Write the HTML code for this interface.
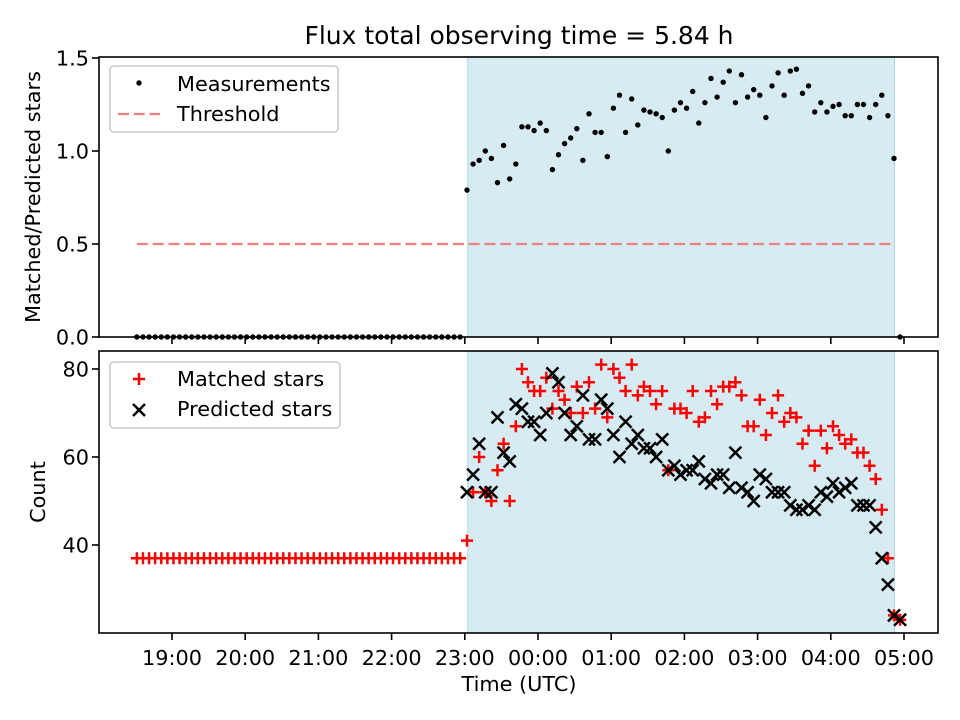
<!DOCTYPE html>
<html><head><meta charset="utf-8"><style>
body{margin:0;background:#fff;}
svg{display:block;font-family:"DejaVu Sans","Liberation Sans",sans-serif;}
</style></head><body>
<svg id="chart" width="960" height="720" viewBox="0 0 960 720">
<rect width="960" height="720" fill="#fff"/>
<g id="g"></g>
</svg>
<script>
// data
const preTimes = { start: 18.52, count: 54, stepMin: 5 };
const obsStart = 23.03;
const ratioValues = [0.79,0.93,0.95,1.0,0.96,0.83,1.03,0.85,0.93,1.13,1.13,1.11,1.15,1.11,0.9,0.98,1.04,1.07,1.12,0.95,1.2,1.1,1.1,0.97,1.23,1.3,1.1,1.28,1.14,1.22,1.21,1.2,1.18,1.0,1.22,1.26,1.23,1.32,1.15,1.26,1.39,1.29,1.37,1.43,1.26,1.41,1.29,1.33,1.3,1.18,1.35,1.42,1.3,1.43,1.44,1.31,1.35,1.21,1.26,1.21,1.24,1.25,1.19,1.19,1.25,1.25,1.18,1.25,1.3,1.19,0.96,0];
const matchedValues = [41,52,60,52,50,57,63,50,67,80,77,75,75,78,71,75,73,70,76,70,77,71,81,69,80,78,75,81,74,76,75,72,75,57,71,71,70,75,68,69,75,72,76,76,77,74,67,67,73,65,70,74,68,70,69,63,66,58,66,62,67,65,63,64,61,61,58,55,48,37,24,23];
const predictedValues = [52,56,63,52,52,69,61,59,72,71,68,68,65,70,79,77,70,65,67,74,64,64,73,71,65,60,68,63,65,62,62,60,64,57,58,56,57,57,59,55,54,56,56,53,61,53,52,50,56,55,52,52,52,49,48,48,49,48,52,51,54,52,53,54,49,49,49,44,37,31,24,23];
const preMatched = 37;
const preRatio = 0;
const threshold = 0.5;
const shadeRange = [23.04, 28.87];
const xTickLabels = ["19:00","20:00","21:00","22:00","23:00","00:00","01:00","02:00","03:00","04:00","05:00"];
const topYTicks = [0.0,0.5,1.0,1.5];
const botYTicks = [40,60,80];

const NS="http://www.w3.org/2000/svg";
const g=document.getElementById('g');
function el(tag,attrs,parent){const e=document.createElementNS(NS,tag);for(const k in attrs)e.setAttribute(k,attrs[k]);(parent||g).appendChild(e);return e;}
const X=t=>172+(t-19)*73.2;
const Yt=v=>337-v*186;
const Yb=v=>545-(v-40)*4.4;
const AX={l:99,r:938};
const TOP={t:57,b:337}, BOT={t:351,b:633};
const FS=20.8;

const preT=[];for(let i=0;i<preTimes.count;i++)preT.push(preTimes.start+i*preTimes.stepMin/60);
const obsT=[];for(let i=0;i<ratioValues.length;i++)obsT.push(obsStart+i*5/60);

// shading
let s=el('rect',{x:X(shadeRange[0]),y:TOP.t,width:X(shadeRange[1])-X(shadeRange[0]),height:TOP.b-TOP.t,fill:'#add8e6','fill-opacity':0.5,stroke:'#add8e6'});


s=el('rect',{x:X(shadeRange[0]),y:BOT.t,width:X(shadeRange[1])-X(shadeRange[0]),height:BOT.b-BOT.t,fill:'#add8e6','fill-opacity':0.5,stroke:'#add8e6'});



// threshold
let th=el('line',{x1:X(preT[0]),x2:X(shadeRange[1]),y1:Yt(threshold),y2:Yt(threshold),stroke:'#f08080','stroke-width':2.2,'stroke-dasharray':'11,4.8'});



// top points
preT.forEach(t=>{const c=el('circle',{cx:X(t),cy:Yt(preRatio),r:2.7,fill:'#000'});});
obsT.forEach((t,i)=>{const c=el('circle',{cx:X(t),cy:Yt(ratioValues[i]),r:2.7,fill:'#000'});});

function plus(x,y,name){const p=el('path',{d:`M${x-6},${y}H${x+6}M${x},${y-6}V${y+6}`,stroke:'#f00','stroke-width':2.5});}
function cross(x,y,name){const p=el('path',{d:`M${x-6},${y-6}L${x+6},${y+6}M${x-6},${y+6}L${x+6},${y-6}`,stroke:'#000','stroke-width':2.5});}
preT.forEach(t=>plus(X(t),Yb(preMatched),'matched-point'));
obsT.forEach((t,i)=>plus(X(t),Yb(matchedValues[i]),'matched-point'));
obsT.forEach((t,i)=>cross(X(t),Yb(predictedValues[i]),'predicted-point'));

// axes frames
[[TOP,'top-axes-frame'],[BOT,'bottom-axes-frame']].forEach(([a,n])=>{const r=el('rect',{x:AX.l,y:a.t,width:AX.r-AX.l,height:a.b-a.t,fill:'none',stroke:'#000','stroke-width':1.6});});

// x ticks
xTickLabels.forEach((lab,i)=>{const x=X(19+i);
 el('line',{x1:x,x2:x,y1:TOP.b,y2:TOP.b+7,stroke:'#000','stroke-width':1.6});
 el('line',{x1:x,x2:x,y1:BOT.b,y2:BOT.b+7,stroke:'#000','stroke-width':1.6});
 const t=el('text',{x:x,y:BOT.b+32,'text-anchor':'middle','font-size':FS});t.textContent=lab;
 });
topYTicks.forEach(v=>{const y=Yt(v);el('line',{x1:AX.l-7,x2:AX.l,y1:y,y2:y,stroke:'#000','stroke-width':1.6});
 const t=el('text',{x:AX.l-10,y:y+7.5,'text-anchor':'end','font-size':FS});t.textContent=v.toFixed(1);
 });
botYTicks.forEach(v=>{const y=Yb(v);el('line',{x1:AX.l-7,x2:AX.l,y1:y,y2:y,stroke:'#000','stroke-width':1.6});
 const t=el('text',{x:AX.l-10,y:y+7.5,'text-anchor':'end','font-size':FS});t.textContent=v;
 });

function text(x,y,str,size,name,extra){const t=el('text',Object.assign({x:x,y:y,'font-size':size},extra||{}));t.textContent=str;return t;}
text(519,44,'Flux total observing time = 5.84 h',25,'chart-title',{'text-anchor':'middle'});
text(519,691,'Time (UTC)',FS,'x-axis-title',{'text-anchor':'middle'});
text(40,197,'Matched/Predicted stars',FS,'top-y-axis-title',{'text-anchor':'middle',transform:'rotate(-90 40 197)'});
text(45,492,'Count',FS,'bottom-y-axis-title',{'text-anchor':'middle',transform:'rotate(-90 45 492)'});

// legends
let lg=el('rect',{x:110,y:66,width:228,height:66,rx:4,fill:'#fff','fill-opacity':0.8,stroke:'#ccc','stroke-width':1.6});

let c=el('circle',{cx:139,cy:83,r:2.7,fill:'#000'});
text(177,91,'Measurements',FS,'legend-measurements');
let l=el('line',{x1:118,x2:160,y1:114,y2:114,stroke:'#f08080','stroke-width':2.2,'stroke-dasharray':'11,4.8'});
text(177,121,'Threshold',FS,'legend-threshold');
lg=el('rect',{x:110,y:362,width:230,height:66,rx:4,fill:'#fff','fill-opacity':0.8,stroke:'#ccc','stroke-width':1.6});

plus(139,379,'legend-matched-marker');
text(177,386,'Matched stars',FS,'legend-matched');
cross(139,410,'legend-predicted-marker');
text(177,416,'Predicted stars',FS,'legend-predicted');
</script>
</body></html>
